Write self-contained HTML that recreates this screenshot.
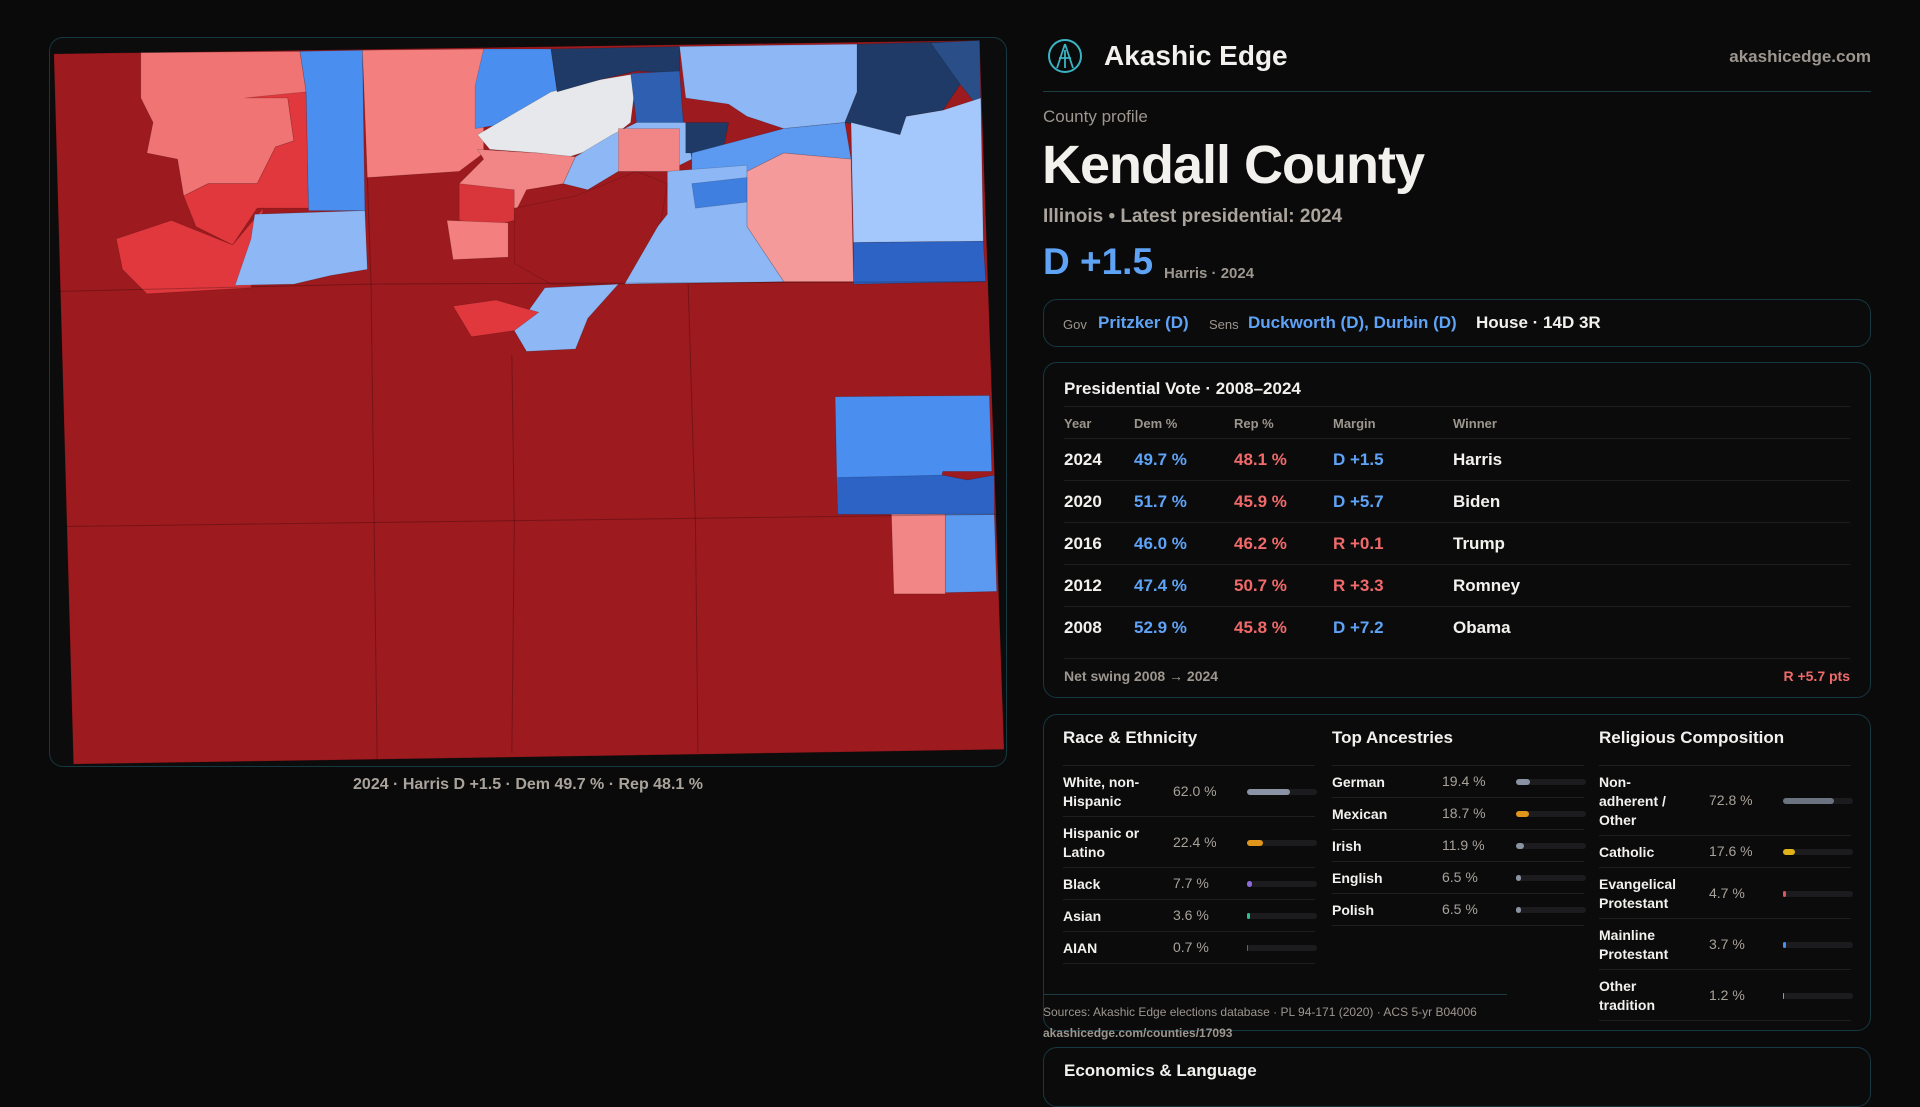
<!DOCTYPE html>
<html><head><meta charset="utf-8">
<style>
*{box-sizing:border-box;margin:0;padding:0}
body{width:1920px;height:1080px;background:#0a0a0b;font-family:"Liberation Sans",sans-serif;color:#f3f1ee;position:relative;overflow:hidden}
.abs{position:absolute}
.muted{color:#9c968e}
.blue{color:#5ea3f6}
.red{color:#f06a6a}
.panel{position:absolute;border:1px solid #163840;border-radius:14px;background:#0b0b0c}
.prow{position:absolute;left:20px;right:20px;height:42px;border-top:1px solid #1e1e20;font-size:17px;font-weight:bold}
.prow span{position:absolute;top:11px}
.col{position:absolute;top:0;width:254px}
.col h3{font-size:17px;font-weight:bold;position:absolute;top:14px;left:0;white-space:nowrap}
.drow{position:absolute;left:0;right:0;border-top:1px solid #1f1f22;font-size:14px;font-weight:bold}
.drow .lab{position:absolute;left:0;line-height:19px}
.drow .val{position:absolute;left:110px;color:#a8a29a;font-weight:normal}
.drow .trk{position:absolute;left:184px;width:70px;height:6px;border-radius:3px;background:#1c1c1f}
.drow .fill{position:absolute;left:0;top:0;height:6px;border-radius:3px}
</style></head><body>

<div class="panel" style="left:49px;top:37px;width:958px;height:730px;background:#0c0c0d"></div>
<svg class="abs" style="left:0;top:0" width="1920" height="1080" viewBox="0 0 1568 882">
<g stroke="rgba(0,0,0,0.18)" stroke-width="0.6">
<polygon points="44,44 800,33 820,612 60,624" fill="#9d1a1e"/>
<polygon points="115,43 245,42 250,75 235,80 240,115 225,120 210,150 170,150 150,160 145,130 120,125 125,100 115,80" fill="#f07474"/>
<polygon points="200,80 235,80 240,115 225,120 210,150 170,150 150,160 160,185 190,200 210,170 252,170 250,75" fill="#e0383d"/>
<polygon points="245,42 296,41 298,172 252,172 250,75" fill="#4a8ef0"/>
<polygon points="95,195 140,180 190,200 215,170 205,235 120,240 100,220" fill="#e0383d"/>
<polygon points="208,175 298,172 300,220 270,225 240,232 192,233 205,195" fill="#8db8f5"/>
<polygon points="296,41 395,40 395,125 375,140 300,145" fill="#f47f7f"/>
<polygon points="395,40 450,40 455,75 420,100 388,105 388,70" fill="#4a8ef0"/>
<polygon points="390,110 450,75 490,65 520,60 515,100 490,120 465,128 440,125 400,122" fill="#e6e8eb"/>
<polygon points="450,40 555,38 555,60 520,58 490,65 455,75" fill="#1f3a66"/>
<polygon points="515,60 555,58 558,100 520,102" fill="#2f5fb0"/>
<polygon points="390,122 440,125 470,128 460,150 430,155 420,175 395,170 375,150 395,130" fill="#f28585"/>
<polygon points="375,150 420,155 420,180 400,185 375,180" fill="#d9363b"/>
<polygon points="365,180 415,182 415,210 370,212" fill="#f47f7f"/>
<polygon points="470,128 500,110 520,100 560,100 565,130 545,140 505,140 480,155 460,150" fill="#8db8f5"/>
<polygon points="505,105 555,105 555,140 505,140" fill="#f28585"/>
<polygon points="560,100 595,100 590,125 560,125" fill="#1f3a66"/>
<polygon points="555,38 700,36 700,75 690,100 640,105 610,95 595,85 560,80" fill="#8db8f5"/>
<polygon points="700,36 780,34 790,60 770,90 740,95 735,110 690,100 700,75" fill="#1f3a66"/>
<polygon points="760,35 800,33 801,90 785,70" fill="#2a4f88"/>
<polygon points="695,100 735,110 740,95 770,90 801,80 803,197 697,198" fill="#a4c8fb"/>
<polygon points="697,198 803,197 805,230 697,232" fill="#2d63c4"/>
<polygon points="565,125 640,105 690,100 695,130 640,125 610,140 565,150" fill="#5b9af0"/>
<polygon points="610,140 640,125 695,130 697,230 640,230 610,185" fill="#f49a9a"/>
<polygon points="545,140 610,135 610,185 640,230 510,232 525,200 545,175" fill="#8db8f5"/>
<polygon points="565,150 610,145 610,165 568,170" fill="#3f7fe0"/>
<polygon points="420,170 470,160 520,140 545,150 540,180 510,232 450,232 420,215" fill="#9d1a1e"/>
<polygon points="445,235 505,232 480,260 470,285 430,287 420,270" fill="#8db8f5"/>
<polygon points="370,250 405,245 440,255 420,270 385,275" fill="#e0383d"/>
<polygon points="682,324 808,323 810,385 770,385 760,420 684,420" fill="#4a8ef0"/>
<polygon points="684,390 770,388 790,392 812,388 812,420 684,420" fill="#2d63c4"/>
<polygon points="728,420 772,420 772,485 730,485" fill="#f28585"/>
<polygon points="772,420 812,420 814,483 772,484" fill="#5b9af0"/>
</g>
<g stroke="rgba(0,0,0,0.25)" stroke-width="0.8" fill="none">
<polyline points="300,145 303,232 308,620"/>
<polyline points="418,290 420,430 418,615"/>
<polyline points="562,232 568,430 570,615"/>
<polyline points="52,430 820,420"/>
<polyline points="46,238 300,232 805,230"/>
</g>
</svg>
<div class="abs muted" style="left:49px;width:958px;top:776px;text-align:center;font-size:16px;font-weight:bold;color:#a9a39b">2024 · Harris D +1.5 · Dem 49.7 % · Rep 48.1 %</div>

<svg class="abs" style="left:1047px;top:38px" width="36" height="36" viewBox="0 0 36 36">
<circle cx="18" cy="18" r="16" fill="none" stroke="#3bb4c4" stroke-width="2"/>
<path d="M18 6 L10 30 M18 6 L26 30 M12 20 L24 20 M18 12 L18 30" stroke="#3bb4c4" stroke-width="1.8" fill="none"/>
</svg>
<div class="abs" style="left:1104px;top:40px;font-size:28px;font-weight:bold">Akashic Edge</div>
<div class="abs muted" style="right:49px;top:47px;font-size:17px;font-weight:bold">akashicedge.com</div>
<div class="abs" style="left:1043px;width:828px;top:91px;height:1px;background:#1d3d44"></div>
<div class="abs muted" style="left:1043px;top:107px;font-size:17px">County profile</div>
<div class="abs" style="left:1042px;top:134px;font-size:54px;font-weight:bold;letter-spacing:-1px">Kendall County</div>
<div class="abs muted" style="left:1043px;top:206px;font-size:19px;font-weight:bold;color:#aaa49c">Illinois • Latest presidential: 2024</div>
<div class="abs blue" style="left:1043px;top:241px;font-size:37px;font-weight:bold">D +1.5</div>
<div class="abs muted" style="left:1164px;top:265px;font-size:15px;font-weight:bold">Harris · 2024</div>

<div class="panel" style="left:1043px;top:299px;width:828px;height:48px">
<span class="abs muted" style="left:19px;top:17px;font-size:13px">Gov</span>
<span class="abs blue" style="left:54px;top:13px;font-size:17px;font-weight:bold">Pritzker (D)</span>
<span class="abs muted" style="left:165px;top:17px;font-size:13px">Sens</span>
<span class="abs blue" style="left:204px;top:13px;font-size:17px;font-weight:bold">Duckworth (D), Durbin (D)</span>
<span class="abs" style="left:432px;top:13px;font-size:17px;font-weight:bold">House · 14D 3R</span>
</div>

<div class="panel" id="pres" style="left:1043px;top:362px;width:828px;height:336px">
<div class="abs" style="left:20px;top:16px;font-size:17px;font-weight:bold">Presidential Vote · 2008–2024</div>
<div class="abs muted" style="left:20px;right:20px;top:43px;height:32px;border-top:1px solid #1e1e20;font-size:13px;font-weight:bold">
<span class="abs" style="left:0;top:9px">Year</span><span class="abs" style="left:70px;top:9px">Dem %</span><span class="abs" style="left:170px;top:9px">Rep %</span><span class="abs" style="left:269px;top:9px">Margin</span><span class="abs" style="left:389px;top:9px">Winner</span></div>
<div class="abs muted" style="left:20px;right:20px;top:295px;border-top:1px solid #1e1e20;font-size:14px;font-weight:bold;padding-top:9px">Net swing 2008 → 2024<span class="red" style="position:absolute;right:0">R +5.7 pts</span></div>
</div>

<div class="panel" style="left:1043px;top:714px;width:828px;height:317px"></div>
<div class="abs col" id="race" style="left:1063px;top:714px;width:252px"><h3>Race &amp; Ethnicity</h3></div>
<div class="abs col" id="anc" style="left:1332px;top:714px;width:252px"><h3>Top Ancestries</h3></div>
<div class="abs col" id="rel" style="left:1599px;top:714px;width:252px"><h3>Religious Composition</h3></div>
<div class="abs" style="left:1043px;width:464px;top:994px;height:1px;background:#1d3d44"></div>
<div class="abs muted" style="left:1043px;top:1005px;font-size:12px">Sources: Akashic Edge elections database · PL 94-171 (2020) · ACS 5-yr B04006</div>
<div class="abs muted" style="left:1043px;top:1026px;font-size:12px;font-weight:bold">akashicedge.com/counties/17093</div>

<div class="panel" style="left:1043px;top:1047px;width:828px;height:60px">
<div class="abs" style="left:20px;top:13px;font-size:17px;font-weight:bold">Economics &amp; Language</div></div>

<script>
const years=["2024","2020","2016","2012","2008"];
const demPct=[49.7,51.7,46.0,47.4,52.9];
const repPct=[48.1,45.9,46.2,50.7,45.8];
const margins=["D +1.5","D +5.7","R +0.1","R +3.3","D +7.2"];
const winners=["Harris","Biden","Trump","Romney","Obama"];

const raceLabels=["White, non-Hispanic","Hispanic or Latino","Black","Asian","AIAN"];
const raceVals=[62.0,22.4,7.7,3.6,0.7];
const ancLabels=["German","Mexican","Irish","English","Polish"];
const ancVals=[19.4,18.7,11.9,6.5,6.5];
const relLabels=["Non-adherent / Other","Catholic","Evangelical Protestant","Mainline Protestant","Other tradition"];
const relVals=[72.8,17.6,4.7,3.7,1.2];

const pres=document.getElementById('pres');
years.forEach((y,i)=>{
  const r=document.createElement('div');
  r.className='prow';
  
  
  r.style.top=(75+i*42)+'px';
  const mt=margins[i];
  r.innerHTML='<span style="left:0">'+y+'</span><span class="blue" style="left:70px">'+demPct[i].toFixed(1)+' %</span><span class="red" style="left:170px">'+repPct[i].toFixed(1)+' %</span><span class="'+(mt[0]==='D'?'blue':'red')+'" style="left:269px">'+mt+'</span><span style="left:389px">'+winners[i]+'</span>';
  pres.appendChild(r);
});

function build(id,labels,vals,colors,heights,labW){
  const c=document.getElementById(id);
  let top=51;
  labels.forEach((l,i)=>{
    const h=heights[i];
    const r=document.createElement('div');
    r.className='drow';
    
    
    r.style.top=top+'px';r.style.height=h+'px';
    const lines=Math.round((h-13)/19);
    const lt=(h-lines*19)/2;
    r.innerHTML='<div class="lab" style="top:'+lt+'px;width:'+labW+'px">'+l+'</div><div class="val" style="top:'+(h/2-9)+'px">'+vals[i].toFixed(1)+' %</div><div class="trk" style="top:'+(h/2-3)+'px"><div class="fill" style="width:'+(vals[i]/100*70)+'px;background:'+colors[i]+'"></div></div>';
    c.appendChild(r);
    top+=h;
  });
  const e=document.createElement('div');
  e.className='drow';e.style.top=top+'px';e.style.height='1px';
  
  
  c.appendChild(e);
}
build('race',raceLabels,raceVals,["#8a93a3","#e0961a","#8b6cd9","#2fbf8f","#666"],[51,51,32,32,32],100);
build('anc',ancLabels,ancVals,["#8a93a3","#e0961a","#8a93a3","#8a93a3","#8a93a3"],[32,32,32,32,32],100);
build('rel',relLabels,relVals,["#6b7280","#e0b21a","#e05555","#4a8ef0","#999"],[70,32,51,51,51],82);
</script>
</body></html>
